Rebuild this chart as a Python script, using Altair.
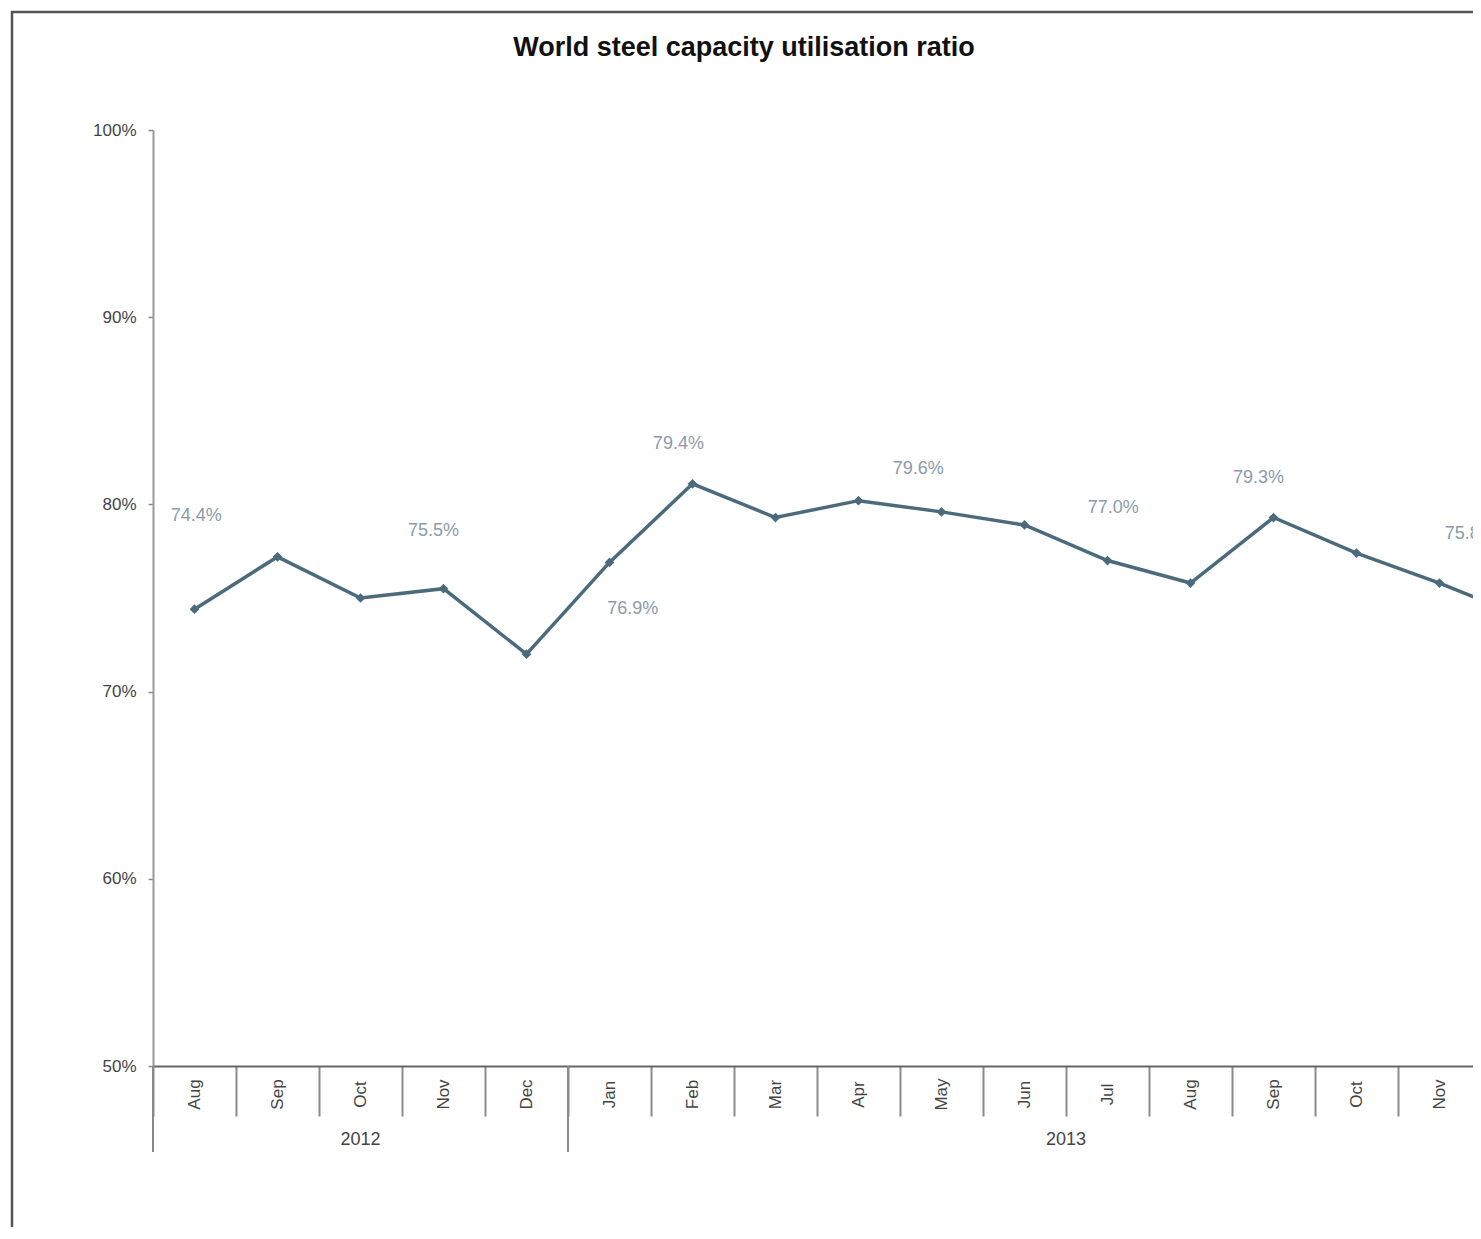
import altair as alt
import pandas as pd

# ---- data ----
months = ["Aug", "Sep", "Oct", "Nov", "Dec", "Jan", "Feb", "Mar", "Apr",
          "May", "Jun", "Jul", "Aug", "Sep", "Oct", "Nov", "Dec"]
years = ["2012"] * 5 + ["2013"] * 12
values = [74.4, 77.2, 75.0, 75.5, 72.0, 76.9, 81.1, 79.3, 80.2,
          79.6, 78.9, 77.0, 75.8, 79.3, 77.4, 75.8, 74.0]

label_text = ["74.4%", "75.5%", "79.4%", "76.9%", "79.6%", "77.0%", "79.3%", "75.8%"]
label_x = [0.02, 2.88, 5.83, 5.28, 8.72, 11.07, 12.82, 15.37]
label_y = [79.4, 78.6, 83.2, 74.4, 81.9, 79.8, 81.4, 78.4]

y_ticks = [50, 60, 70, 80, 90, 100]
title_text = "World steel capacity utilisation ratio"

# ---- tables ----
df = pd.DataFrame({"idx": list(range(len(months))), "month": months,
                   "year": years, "value": values})
lab = pd.DataFrame({"lx": label_x, "ly": label_y, "text": label_text})
yr = df.groupby("year", sort=False)["idx"].agg(["min", "max"]).reset_index()
yr["start"] = yr["min"] - 0.5
yr["end"] = yr["max"] + 0.5
yr["mid"] = (yr["start"] + yr["end"]) / 2
one = pd.DataFrame({"t": [title_text]})

STEP = 83.0          # pixels per month
W, H = 1320, 936
FONT = "Liberation Sans"
LINE = "#4b6b7c"
X_MAX = -0.5 + W / STEP

xs = alt.Scale(domain=[-0.5, X_MAX], nice=False, zero=False)
ys = alt.Scale(domain=[50, 100], nice=False, zero=False)

x_axis = alt.Axis(values=[i - 0.5 for i in range(len(months) + 1)], tickSize=50,
                  labels=False, title=None, grid=False, domainColor="#666",
                  domainWidth=2, tickColor="#8a8a8a", tickWidth=2)
y_axis = alt.Axis(values=y_ticks, labelExpr="datum.value + '%'", title=None,
                  grid=False, tickSize=5, labelPadding=12, labelFont=FONT,
                  labelFontSize=17, labelColor="#444", domainColor="#999",
                  domainWidth=2, tickColor="#888", tickWidth=1.5)

base = alt.Chart(df)

line = base.mark_line(color=LINE, strokeWidth=3.5, clip=True).encode(
    x=alt.X("idx:Q", scale=xs, axis=x_axis),
    y=alt.Y("value:Q", scale=ys, axis=y_axis),
)
pts = base.mark_point(shape="diamond", filled=True, size=95, color=LINE,
                      opacity=1, clip=True).encode(
    x=alt.X("idx:Q"), y=alt.Y("value:Q"))

month_lbl = base.transform_filter(f"datum.idx < {X_MAX}").mark_text(
    angle=270, align="center", baseline="middle",
    font=FONT, fontSize=17, color="#444").encode(
    x=alt.X("idx:Q"), y=alt.value(H + 28.5), text="month:N")

year_sep = alt.Chart(yr).mark_rule(color="#8a8a8a", strokeWidth=2).encode(
    x=alt.X("start:Q"), y=alt.value(H), y2=alt.value(H + 86))
year_lbl = alt.Chart(yr).mark_text(align="center", baseline="middle", font=FONT,
                                   fontSize=18, color="#444").encode(
    x=alt.X("mid:Q"), y=alt.value(H + 74), text="year:N")

labels = alt.Chart(lab).mark_text(align="center", baseline="middle", font=FONT,
                                  fontSize=18, color="#8b9ba9", clip=True).encode(
    x=alt.X("lx:Q"), y=alt.Y("ly:Q"), text="text:N")

frame = alt.Chart(one).mark_rect(filled=False, stroke="#555", strokeWidth=2.5).encode(
    x=alt.value(-141), x2=alt.value(4000), y=alt.value(-118), y2=alt.value(4000))
title = alt.Chart(one).mark_text(align="center", baseline="middle", font=FONT,
                                 fontSize=27, fontWeight="bold", color="#111").encode(
    x=alt.value(744 - 153), y=alt.value(48 - 130), text="t:N")

chart = alt.layer(frame, title, line, pts, labels, month_lbl, year_sep, year_lbl).properties(
    width=W, height=H,
    autosize=alt.AutoSizeParams(type="none"),
    padding={"left": 145, "top": 122, "right": 0, "bottom": 161},
).configure(background="white", view=alt.ViewConfig(stroke=None))

chart.save("out.html", embed_options={"renderer": "svg", "actions": False})
